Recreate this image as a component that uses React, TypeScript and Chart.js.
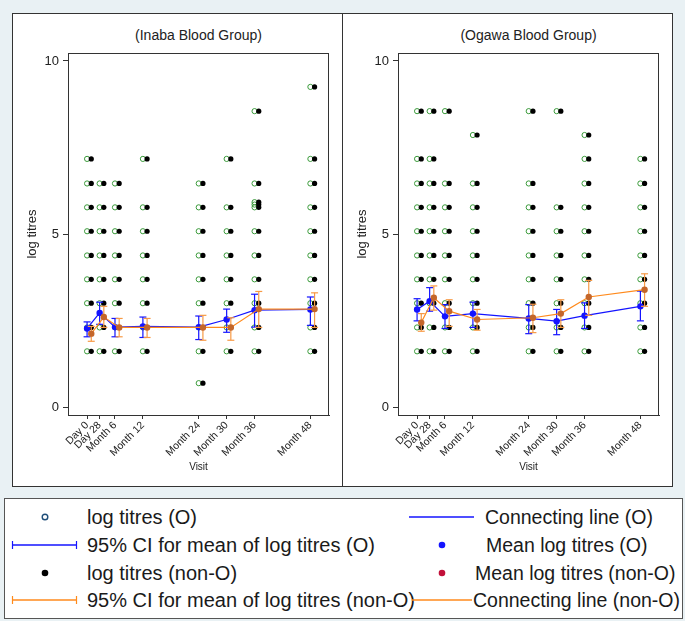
import React, { useEffect, useRef } from 'react';
import { Chart, registerables } from 'chart.js';

Chart.register(...registerables);
Chart.defaults.font.family = "'Liberation Sans', Arial, sans-serif";
Chart.defaults.color = '#222';

// ---- data ----
const visitLabels = ['Day 0', 'Day 28', 'Month 6', 'Month 12', 'Month 24', 'Month 30', 'Month 36', 'Month 48'];
const visitX = [0, 2.7, 6, 12, 24, 30, 36, 48];
const groupOffset = 0.9;
const yTicks = [0, 5, 10];

// observed log titres per visit (Inaba)
const inabaLevelsO = [
  [1.61, 2.30, 3.00, 3.69, 4.38, 5.08, 5.77, 6.46, 7.17],
  [1.61, 2.30, 3.00, 3.69, 4.38, 5.08, 5.77, 6.46],
  [1.61, 2.30, 3.00, 3.69, 4.38, 5.08, 5.77, 6.46],
  [1.61, 2.30, 3.00, 3.69, 4.38, 5.08, 5.77, 7.17],
  [0.69, 1.61, 2.30, 3.00, 3.69, 4.38, 5.08, 5.77, 6.46],
  [1.61, 2.30, 3.00, 3.69, 4.38, 5.08, 5.77, 7.17],
  [1.61, 2.30, 3.00, 3.69, 4.38, 5.08, 5.77, 5.85, 5.92, 6.46, 8.55],
  [1.61, 2.30, 3.00, 3.69, 4.38, 5.08, 5.77, 6.46, 7.17, 9.25],
];
const inabaLevelsNonO = inabaLevelsO;

const inabaMeanO = [2.27, 2.72, 2.31, 2.33, 2.31, 2.53, 2.80, 2.82];
const inabaCiLoO = [2.03, 2.39, 2.03, 2.01, 1.95, 2.16, 2.31, 2.36];
const inabaCiHiO = [2.46, 3.03, 2.56, 2.60, 2.63, 2.83, 3.26, 3.18];
const inabaMeanNonO = [2.12, 2.60, 2.30, 2.30, 2.30, 2.30, 2.83, 2.83];
const inabaCiLoNonO = [1.90, 2.30, 2.03, 2.01, 1.93, 1.93, 2.30, 2.30];
const inabaCiHiNonO = [2.33, 2.91, 2.56, 2.56, 2.65, 2.58, 3.34, 3.30];

// observed log titres per visit (Ogawa)
const ogawaLevelsO = [
  [1.61, 2.30, 3.00, 3.69, 4.38, 5.08, 5.77, 6.46, 7.17, 8.55],
  [1.61, 2.30, 3.00, 3.69, 4.38, 5.08, 5.77, 6.46, 7.17, 8.55],
  [1.61, 2.30, 3.00, 3.69, 4.38, 5.08, 5.77, 6.46, 8.55],
  [1.61, 2.30, 3.00, 3.69, 4.38, 5.08, 5.77, 6.46, 7.86],
  [1.61, 2.30, 3.00, 3.69, 4.38, 5.08, 5.77, 6.46, 8.55],
  [1.61, 2.30, 3.00, 3.69, 4.38, 5.08, 5.77, 8.55],
  [1.61, 2.30, 3.00, 3.69, 4.38, 5.08, 5.77, 6.46, 7.17, 7.86],
  [1.61, 2.30, 3.00, 3.69, 4.38, 5.08, 5.77, 6.46, 7.17],
];
const ogawaLevelsNonO = ogawaLevelsO;

const ogawaMeanO = [2.82, 3.06, 2.62, 2.70, 2.56, 2.48, 2.64, 2.91];
const ogawaCiLoO = [2.49, 2.77, 2.27, 2.30, 2.12, 2.09, 2.27, 2.49];
const ogawaCiHiO = [3.13, 3.45, 2.96, 3.03, 2.96, 2.82, 3.01, 3.35];
const ogawaMeanNonO = [2.44, 3.16, 2.77, 2.53, 2.58, 2.70, 3.18, 3.39];
const ogawaCiLoNonO = [2.19, 2.80, 2.33, 2.22, 2.15, 2.30, 2.65, 2.91];
const ogawaCiHiNonO = [2.70, 3.50, 3.10, 2.82, 2.97, 3.10, 3.66, 3.85];

const legendLeft = [
  'log titres (O)',
  '95% CI for mean of log titres (O)',
  'log titres (non-O)',
  '95% CI for mean of log titres (non-O)',
];
const legendRight = [
  'Connecting line (O)',
  'Mean log titres (O)',
  'Mean log titres (non-O)',
  'Connecting line (non-O)',
];

// ---- styles ----
const BLUE = '#1414ff';
const ORANGE = '#ff8a1c';
const ORANGE_CI = '#f79a45';
const MEAN_NONO = '#c4662a';
const GREEN = '#3a9a3a';
const CRIMSON = '#c2103a';
const NAVY = '#1f4e79';

type PanelData = {
  title: string;
  levelsO: number[][];
  levelsN: number[][];
  meanO: number[];
  loO: number[];
  hiO: number[];
  meanN: number[];
  loN: number[];
  hiN: number[];
};

const framePlugin = {
  id: 'frame',
  beforeDatasetsDraw(chart: any) {
    const { ctx, chartArea } = chart;
    const { left, top, right, bottom } = chartArea;
    ctx.save();
    ctx.strokeStyle = '#333';
    ctx.lineWidth = 1;
    ctx.strokeRect(Math.round(left) + 0.5, Math.round(top) + 0.5, Math.round(right - left) - 1, Math.round(bottom - top));
    ctx.restore();
  },
};

function buildDatasets(p: PanelData) {
  const pts = (levels: number[][], off: number) =>
    levels.flatMap((vals, i) => vals.map((v) => ({ x: visitX[i] + off, y: v })));
  const ci = (lo: number[], hi: number[], off: number) =>
    lo.flatMap((l, i) => [
      { x: visitX[i] + off, y: l },
      { x: visitX[i] + off, y: hi[i] },
      { x: visitX[i] + off, y: null },
    ]);
  const line = (m: number[], off: number) => m.map((v, i) => ({ x: visitX[i] + off, y: v }));
  return [
    {
      label: 'Mean log titres (non-O)',
      data: line(p.meanN, groupOffset),
      showLine: false,
      pointRadius: 3.2,
      pointBackgroundColor: MEAN_NONO,
      pointBorderColor: MEAN_NONO,
      pointBorderWidth: 0,
    },
    {
      label: 'Connecting line (non-O)',
      data: line(p.meanN, groupOffset),
      showLine: true,
      pointRadius: 0,
      borderColor: ORANGE,
      borderWidth: 1.2,
    },
    {
      label: '95% CI for mean of log titres (non-O)',
      data: ci(p.loN, p.hiN, groupOffset),
      showLine: true,
      spanGaps: false,
      borderColor: ORANGE_CI,
      borderWidth: 1.2,
      pointStyle: 'line',
      pointRadius: 3.5,
      pointBorderColor: ORANGE_CI,
      pointBorderWidth: 1.2,
    },
    {
      label: 'Mean log titres (O)',
      data: line(p.meanO, 0),
      showLine: false,
      pointRadius: 3.2,
      pointBackgroundColor: BLUE,
      pointBorderColor: BLUE,
      pointBorderWidth: 0,
    },
    {
      label: 'Connecting line (O)',
      data: line(p.meanO, 0),
      showLine: true,
      pointRadius: 0,
      borderColor: BLUE,
      borderWidth: 1.2,
    },
    {
      label: '95% CI for mean of log titres (O)',
      data: ci(p.loO, p.hiO, 0),
      showLine: true,
      spanGaps: false,
      borderColor: BLUE,
      borderWidth: 1.2,
      pointStyle: 'line',
      pointRadius: 3.5,
      pointBorderColor: BLUE,
      pointBorderWidth: 1.2,
    },
    {
      label: 'log titres (non-O)',
      data: pts(p.levelsN, groupOffset),
      pointRadius: 2.6,
      pointBackgroundColor: '#000',
      pointBorderColor: '#000',
      pointBorderWidth: 0,
    },
    {
      label: 'log titres (O)',
      data: pts(p.levelsO, 0),
      pointRadius: 2.6,
      pointBackgroundColor: 'rgba(255,255,255,0)',
      pointBorderColor: GREEN,
      pointBorderWidth: 1,
    },
  ];
}

function Panel({ data, left }: { data: PanelData; left: number }) {
  const ref = useRef<HTMLCanvasElement | null>(null);
  useEffect(() => {
    if (!ref.current) return;
    const chart = new Chart(ref.current, {
      type: 'scatter',
      data: { datasets: buildDatasets(data) as any },
      options: {
        animation: false,
        responsive: false,
        devicePixelRatio: 1,
        events: [],
        layout: { padding: { top: 39, right: 13, left: 0, bottom: 0 } },
        plugins: { legend: { display: false }, tooltip: { enabled: false }, title: { display: false } },
        scales: {
          x: {
            type: 'linear',
            min: -4.1,
            max: 52,
            afterBuildTicks: (s: any) => {
              s.ticks = visitX.map((v) => ({ value: v }));
            },
            afterFit: (s: any) => {
              s.height = 71;
            },
            ticks: {
              autoSkip: false,
              minRotation: 45,
              maxRotation: 45,
              padding: 0,
              font: { size: 10.5 },
              color: '#222',
              callback: (_v: any, i: number) => visitLabels[i],
            },
            grid: { drawOnChartArea: false, drawTicks: true, tickLength: 4, color: '#333' },
            border: { display: true, color: '#333' },
            title: { display: true, text: 'Visit', font: { size: 10 }, color: '#222', padding: { top: 0, bottom: 13 } },
          },
          y: {
            type: 'linear',
            min: -0.23,
            max: 10.23,
            afterBuildTicks: (s: any) => {
              s.ticks = yTicks.map((v) => ({ value: v }));
            },
            afterFit: (s: any) => {
              s.width = 55;
            },
            ticks: { font: { size: 13 }, color: '#222', padding: 4 },
            grid: { drawOnChartArea: false, drawTicks: true, tickLength: 5, color: '#333' },
            border: { display: true, color: '#333' },
            title: { display: true, text: 'log titres', font: { size: 13 }, color: '#222', padding: { top: 12, bottom: 0 } },
          },
        },
      } as any,
      plugins: [framePlugin],
    });
    return () => chart.destroy();
  }, [data]);
  return (
    <div
      style={{
        position: 'absolute',
        left,
        top: 13,
        width: 331,
        height: 474,
        boxSizing: 'border-box',
        border: '1px solid #333',
        background: '#fff',
      }}
    >
      <div
        style={{
          position: 'absolute',
          left: 55,
          width: 261,
          top: 12,
          fontSize: 14,
          lineHeight: '18px',
          textAlign: 'center',
          fontFamily: "'Liberation Sans', Arial, sans-serif",
          color: '#222',
        }}
      >
        {data.title}
      </div>
      <canvas ref={ref} width={329} height={472} style={{ position: 'absolute', left: 0, top: 0, width: 329, height: 472 }} />
    </div>
  );
}

const inabaPanel: PanelData = {
  title: '(Inaba Blood Group)',
  levelsO: inabaLevelsO,
  levelsN: inabaLevelsNonO,
  meanO: inabaMeanO,
  loO: inabaCiLoO,
  hiO: inabaCiHiO,
  meanN: inabaMeanNonO,
  loN: inabaCiLoNonO,
  hiN: inabaCiHiNonO,
};
const ogawaPanel: PanelData = {
  title: '(Ogawa Blood Group)',
  levelsO: ogawaLevelsO,
  levelsN: ogawaLevelsNonO,
  meanO: ogawaMeanO,
  loO: ogawaCiLoO,
  hiO: ogawaCiHiO,
  meanN: ogawaMeanNonO,
  loN: ogawaCiLoNonO,
  hiN: ogawaCiHiNonO,
};

function Legend() {
  const rows = [19, 47, 75, 102];
  const txtL = { fontSize: 20, fontFamily: "'Liberation Sans', Arial, sans-serif", fill: '#1a1a1a' } as any;
  const txtR = { fontSize: 19.5, fontFamily: "'Liberation Sans', Arial, sans-serif", fill: '#1a1a1a' } as any;
  const rightX = [481, 482, 471, 469];
  return (
    <svg
      width={679}
      height={121}
      style={{ position: 'absolute', left: 4, top: 498, background: '#fff' }}
    >
      <rect x={0.5} y={0.5} width={678} height={120} fill="#fff" stroke="#555" strokeWidth={1} />
      {/* left column symbols */}
      <circle cx={41} cy={rows[0]} r={2.8} fill="none" stroke={NAVY} strokeWidth={1.4} />
      <line x1={8} y1={rows[1]} x2={73} y2={rows[1]} stroke={BLUE} strokeWidth={1.5} />
      <line x1={8.5} y1={rows[1] - 4} x2={8.5} y2={rows[1] + 4} stroke={BLUE} strokeWidth={1.2} />
      <line x1={72.5} y1={rows[1] - 4} x2={72.5} y2={rows[1] + 4} stroke={BLUE} strokeWidth={1.2} />
      <circle cx={41} cy={rows[2]} r={3.3} fill="#000" />
      <line x1={8} y1={rows[3]} x2={73} y2={rows[3]} stroke={ORANGE} strokeWidth={1.5} />
      <line x1={8.5} y1={rows[3] - 4} x2={8.5} y2={rows[3] + 4} stroke={ORANGE} strokeWidth={1.2} />
      <line x1={72.5} y1={rows[3] - 4} x2={72.5} y2={rows[3] + 4} stroke={ORANGE} strokeWidth={1.2} />
      {legendLeft.map((t, i) => (
        <text key={'l' + i} x={83} y={rows[i] + 7} style={txtL}>
          {t}
        </text>
      ))}
      {/* right column symbols */}
      <line x1={405} y1={rows[0]} x2={470} y2={rows[0]} stroke={BLUE} strokeWidth={1.5} />
      <circle cx={438} cy={rows[1]} r={3.3} fill={BLUE} />
      <circle cx={438} cy={rows[2]} r={3.3} fill={CRIMSON} />
      <line x1={408} y1={rows[3]} x2={468} y2={rows[3]} stroke={ORANGE} strokeWidth={1.5} />
      {legendRight.map((t, i) => (
        <text key={'r' + i} x={rightX[i]} y={rows[i] + 7} style={txtR}>
          {t}
        </text>
      ))}
    </svg>
  );
}

export default function App() {
  return (
    <div
      style={{
        position: 'absolute',
        left: 0,
        top: 0,
        width: 685,
        height: 621,
        background: '#e9f1f4',
        overflow: 'hidden',
      }}
    >
      <Panel data={inabaPanel} left={12} />
      <Panel data={ogawaPanel} left={342} />
      <Legend />
    </div>
  );
}
